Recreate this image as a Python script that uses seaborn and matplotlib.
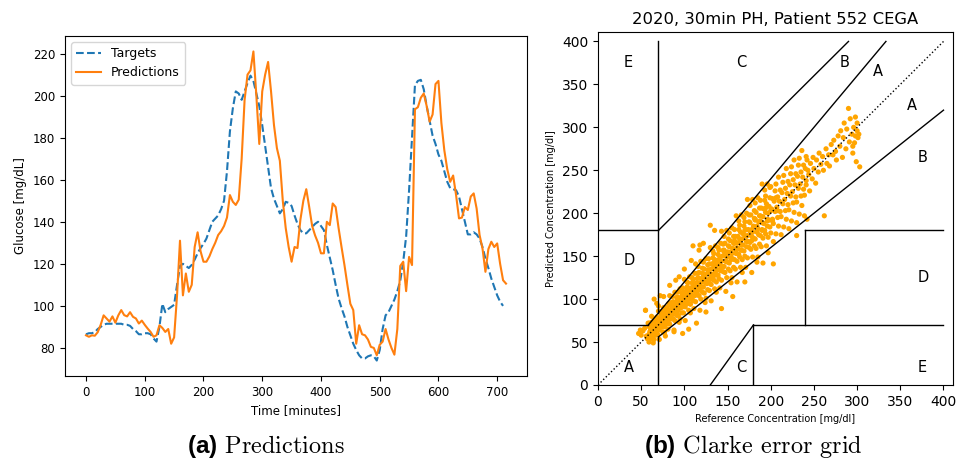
import numpy as np
import pandas as pd
import matplotlib

matplotlib.use("Agg")
import matplotlib.pyplot as plt
import seaborn as sns

# --- left panel: glucose trace, 5 minute samples ---
minutes = np.arange(0, 720, 5)

targets = [
    86.5, 87, 87, 87.5, 89, 90, 91, 91.5, 91.5, 91.5,
    91.5, 91.5, 91.5, 91, 91, 90.5, 89, 88, 86.5, 86.5,
    87, 87, 86.5, 84.5, 83, 90, 101, 97, 98.5, 99.5,
    100.5, 110, 119, 120, 119, 118, 119.5, 122, 125, 127.5,
    129.5, 132, 136, 140, 141.5, 143, 146, 150, 164, 183,
    194, 202, 201, 198, 202, 206, 209.5, 207, 201, 195,
    186, 176, 166, 156, 151, 147.5, 144, 146, 149.5, 149,
    147.5, 143, 139, 136, 134.5, 134.5, 136, 137.5, 139, 140,
    138, 136, 129, 123, 117, 110, 103.5, 99, 95, 90,
    86, 82, 79, 76.5, 75, 75, 76, 76.5, 76, 74,
    79, 89, 95.5, 97, 100, 103, 107, 112, 121, 133,
    155, 180, 205, 207, 207.5, 203, 195, 188, 181, 177,
    172, 169, 164, 159, 156, 155.5, 155, 152, 146, 140,
    134, 134, 135, 134, 132, 128, 122.5, 118, 113, 109,
    105, 102, 100, np.nan,
]

predictions = [
    86, 85.3, 86, 85.8, 87.5, 91, 95.5, 94, 92.5, 95,
    92, 95.5, 98, 95.6, 95, 97, 94.8, 94, 91.6, 93,
    91, 89.2, 87.6, 85.3, 86, 90.8, 89.5, 87.6, 89, 82,
    85, 105, 131, 105, 115.4, 106.7, 110, 128, 135, 126,
    121, 121, 123.5, 127, 130, 133.7, 135.5, 138, 142, 152.7,
    149.5, 148, 150.5, 170, 198, 210, 212, 221, 200, 177,
    202, 210, 216, 202, 186, 175, 169, 150, 137, 128,
    121, 128, 127.5, 141, 150, 155.5, 147, 138, 133.5, 130,
    125, 125, 140, 138.4, 148.7, 147, 137, 128, 119.4, 110,
    101, 98, 82, 90.8, 86.5, 86, 84, 80.5, 80, 76.5,
    81.5, 83, 89, 84, 80, 76.8, 89, 119, 121, 107,
    123.3, 119.4, 193.5, 194.5, 199, 201, 195, 187.6, 191, 205.5,
    207, 187, 174, 165, 159, 162, 152.7, 141.6, 142, 147,
    145.6, 152, 153.5, 146.3, 133.7, 127.3, 116.2, 127, 130.5, 128,
    129.7, 120, 112.2, 110.6,
]

# --- right panel: Clarke error grid points (reference, predicted) ---
cega_ref = [
    47, 49, 50, 52, 54, 55, 56, 58, 59, 57,
    59, 61, 60, 59, 60, 61, 61, 59,
    63, 62, 64, 64, 62, 63, 62, 64,
    65, 67, 66, 65, 66, 67, 67, 65,
    69, 68, 70, 70, 68, 69, 68, 70,
    71, 73, 72, 71, 72, 73, 73, 71,
    75, 74, 76, 76, 74, 75, 74, 76,
    77, 79, 78, 77, 78, 79, 79, 77,
    81, 80, 82, 82, 80, 81, 80, 82,
    83, 85, 84, 83, 84, 85, 85, 83,
    87, 86, 88, 88, 86, 87, 86, 88,
    89, 91, 90, 89, 90, 91, 91, 89,
    93, 92, 94, 94, 92, 93, 92, 94,
    95, 97, 96, 95, 96, 97, 97, 95,
    99, 98, 100, 100, 98, 99, 98, 100,
    101, 103, 102, 101, 102, 103, 103, 101,
    105, 104, 106, 106, 104, 105, 104, 106,
    107, 109, 108, 107, 108, 109, 109, 107,
    111, 110, 112, 112, 110, 111, 110, 112,
    113, 115, 114, 113, 114, 115, 115, 113,
    117, 116, 118, 118, 116, 117, 116, 118,
    119, 121, 120, 119, 120, 121, 121, 119,
    123, 122, 124, 124, 122, 123, 122, 124,
    125, 127, 126, 125, 126, 127, 127, 125,
    129, 128, 130, 130, 128, 129, 128, 130,
    131, 133, 132, 131, 132, 133, 133, 131,
    135, 134, 136, 136, 134, 135, 134, 136,
    137, 139, 138, 137, 138, 139, 139, 137,
    141, 140, 142, 142, 140, 141, 140, 142,
    143, 145, 144, 143, 144, 145, 145, 143,
    147, 146, 148, 148, 146, 147, 146, 148,
    149, 151, 150, 149, 150, 151, 151, 149,
    153, 152, 154, 154, 152, 153, 152, 154,
    155, 157, 156, 155, 156, 157, 157, 155,
    159, 158, 160, 160, 158, 159, 158, 160,
    161, 163, 162, 161, 162, 163, 163, 161,
    165, 164, 166, 166, 164, 165, 164, 166,
    167, 169, 168, 167, 168, 169, 169, 167,
    171, 170, 172, 172, 170, 171, 170, 172,
    173, 175, 174, 173, 174, 175, 175, 173,
    177, 176, 178, 178, 176, 177, 176, 178,
    179, 181, 180, 179, 180, 181, 181, 179,
    183, 182, 184, 184, 182, 183, 182, 184,
    185, 187, 186, 185, 186, 187, 187, 185,
    189, 188, 190, 190, 188, 189, 188, 190,
    191, 193, 192, 191, 192, 193, 193, 191,
    195, 194, 196, 196, 194, 195, 194, 196,
    197, 199, 198, 197, 198, 199, 199, 197,
    200, 202, 201, 202, 200,
    203, 205, 204, 205, 203,
    206, 208, 207, 208, 206,
    209, 211, 210, 211, 209,
    212, 214, 213, 214, 212,
    215, 217, 216, 217, 215,
    218, 220, 219, 220, 218,
    221, 223, 222, 223, 221,
    224, 226, 225, 226, 224,
    227, 229, 228, 229, 227,
    230, 232, 231, 232, 230,
    233, 235, 234, 235, 233,
    236, 238, 237, 238, 236,
    239, 241, 240, 241, 239,
    241, 242, 244, 245, 246, 248, 249, 250, 252, 243,
    253, 255, 256, 258, 260, 261, 262, 264, 265, 267,
    268, 270, 272, 273, 275, 276, 278, 280, 281, 283,
    284, 285, 287, 288, 290, 291, 292, 294, 295, 296,
    297, 298, 299, 300, 300, 301, 302, 303, 298, 295,
    55, 65, 68, 72, 83, 94, 110, 118, 117, 130,
    98, 114, 105, 143, 156, 170, 203, 230, 242, 78,
    88, 125, 100, 90, 76, 108, 122, 135, 62, 70,
    62, 64, 68, 70, 74, 76, 80, 82, 86, 88,
    92, 94, 98, 100, 104, 106, 110, 112, 116, 118,
    122, 124, 128, 130, 134, 136, 140, 142, 146, 148,
    152, 154, 158, 160, 164, 166, 170, 172, 176, 178,
    182, 184, 188, 190, 194, 196, 200, 202, 206, 208,
]

cega_pred = [
    60, 64, 58, 63, 66, 87, 57, 72, 68, 54,
    50, 54, 57, 59, 62, 65, 68, 72,
    55, 59, 61, 64, 66, 69, 73, 49,
    53, 58, 62, 65, 67, 70, 73, 77,
    59, 63, 66, 69, 72, 75, 79, 86,
    64, 68, 71, 73, 77, 81, 85, 53,
    62, 68, 71, 74, 77, 81, 85, 90,
    68, 73, 76, 79, 82, 86, 90, 61,
    65, 71, 76, 79, 83, 86, 90, 95,
    71, 77, 81, 84, 87, 92, 96, 104,
    77, 82, 85, 89, 93, 97, 103, 64,
    75, 81, 86, 89, 93, 97, 102, 108,
    81, 86, 90, 94, 98, 102, 108, 73,
    77, 84, 90, 94, 98, 102, 107, 112,
    84, 91, 95, 99, 103, 108, 113, 123,
    91, 96, 100, 104, 109, 114, 120, 75,
    87, 95, 100, 104, 108, 113, 119, 126,
    94, 100, 105, 109, 113, 119, 125, 84,
    89, 98, 104, 109, 113, 118, 123, 130,
    97, 105, 109, 114, 119, 124, 130, 141,
    104, 110, 115, 119, 125, 131, 138, 87,
    100, 108, 114, 119, 124, 130, 136, 144,
    107, 114, 119, 124, 129, 135, 143, 96,
    101, 111, 118, 123, 129, 134, 140, 147,
    110, 119, 124, 129, 134, 141, 147, 160,
    117, 124, 129, 135, 141, 148, 156, 98,
    112, 122, 128, 134, 139, 146, 153, 162,
    120, 128, 134, 139, 145, 152, 160, 108,
    113, 124, 133, 138, 144, 149, 157, 165,
    122, 132, 138, 144, 150, 157, 164, 179,
    131, 138, 144, 150, 157, 165, 173, 109,
    125, 135, 143, 149, 155, 162, 170, 180,
    133, 142, 148, 155, 161, 168, 177, 119,
    125, 137, 147, 153, 159, 165, 173, 183,
    135, 146, 153, 159, 165, 173, 181, 197,
    144, 152, 159, 165, 173, 181, 191, 120,
    137, 149, 157, 163, 170, 178, 186, 198,
    146, 156, 163, 170, 176, 185, 195, 131,
    137, 150, 161, 168, 174, 181, 190, 200,
    148, 160, 167, 174, 181, 190, 198, 216,
    158, 166, 173, 181, 189, 198, 209, 131,
    149, 162, 171, 178, 185, 194, 203, 216,
    159, 170, 178, 185, 192, 201, 212, 143,
    149, 164, 175, 182, 190, 197, 206, 218,
    161, 174, 181, 189, 197, 206, 215, 234,
    171, 180, 188, 196, 205, 215, 227, 142,
    162, 176, 185, 193, 201, 211, 220, 234,
    172, 184, 192, 200, 208, 218, 230, 154,
    177, 193, 205, 217, 231,
    188, 202, 214, 226, 167,
    176, 195, 207, 219, 234,
    185, 202, 214, 227, 242,
    196, 211, 224, 236, 175,
    184, 203, 216, 229, 244,
    193, 210, 223, 237, 252,
    204, 220, 233, 246, 182,
    191, 212, 225, 239, 254,
    201, 219, 233, 246, 262,
    213, 229, 243, 256, 189,
    199, 220, 234, 248, 264,
    209, 228, 242, 256, 273,
    221, 238, 252, 266, 197,
    233, 262, 245, 226, 258, 240, 265, 252, 235, 250,
    262, 248, 270, 257, 266, 250, 197, 275, 258, 268,
    255, 280, 268, 285, 272, 262, 290, 278, 296, 265,
    288, 305, 275, 298, 322, 283, 310, 292, 270, 300,
    282, 290, 260, 296, 305, 288, 292, 254, 312, 278,
    87, 100, 95, 104, 116, 126, 162, 163, 157, 186,
    60, 72, 65, 89, 103, 120, 141, 174, 193, 57,
    62, 85, 135, 122, 103, 145, 165, 180, 80, 92,
    64, 61, 69, 66, 79, 73, 82, 77, 91, 86,
    95, 89, 104, 98, 106, 100, 117, 109, 118, 111,
    129, 121, 130, 123, 142, 132, 143, 134, 155, 144,
    154, 146, 168, 156, 167, 157, 180, 167, 179, 168,
    193, 179, 191, 180, 206, 191, 203, 191, 218, 203,
]

# Clarke zone boundaries ((x0, x1), (y0, y1))
zone_lines = [
    ((0, 175 / 3), (70, 70)),
    ((175 / 3, 400 / 1.2), (70, 400)),
    ((70, 70), (84, 400)),
    ((0, 70), (180, 180)),
    ((70, 290), (180, 400)),
    ((70, 70), (0, 56)),
    ((70, 400), (56, 320)),
    ((180, 180), (0, 70)),
    ((180, 400), (70, 70)),
    ((240, 240), (70, 180)),
    ((240, 400), (180, 180)),
    ((130, 180), (0, 70)),
]
zone_labels = [
    (30, 15, "A"), (318, 360, "A"), (358, 320, "A"),
    (370, 260, "B"), (280, 370, "B"),
    (160, 370, "C"), (160, 15, "C"),
    (30, 140, "D"), (370, 120, "D"),
    (30, 370, "E"), (370, 15, "E"),
]

plt.rcParams["mathtext.fontset"] = "custom"
plt.rcParams["mathtext.rm"] = "cmr10"
plt.rcParams["mathtext.bf"] = "Liberation Sans:bold"

fig = plt.figure(figsize=(9.6, 4.63), dpi=100)
ax1 = fig.add_axes([65 / 960, 87 / 463, 462 / 960, 340 / 463])
ax2 = fig.add_axes([598 / 960, 78 / 463, 355 / 960, 353 / 463])

trace = pd.DataFrame({"minutes": minutes, "targets": targets, "predictions": predictions})
sns.lineplot(data=trace, x="minutes", y="targets", ax=ax1, color="tab:blue",
             linestyle="--", linewidth=1.5, label="Targets")
sns.lineplot(data=trace, x="minutes", y="predictions", ax=ax1, color="tab:orange",
             linewidth=1.5, label="Predictions")
ax1.set_xlabel("Time [minutes]", fontsize=8.5)
ax1.set_ylabel("Glucose [mg/dL]", fontsize=8.5)
ax1.set_yticks(range(80, 221, 20))
ax1.tick_params(labelsize=8.5)
ax1.legend(loc="upper left", fontsize=9)

sns.scatterplot(x=cega_ref, y=cega_pred, ax=ax2, color="orange", s=14,
                edgecolor="none", zorder=1)
ax2.plot([0, 400], [0, 400], ":", color="black", linewidth=1)
for xs, ys in zone_lines:
    ax2.plot(xs, ys, "-", color="black", linewidth=1)
for x, y, s in zone_labels:
    ax2.text(x, y, s, fontsize=10.5)
ax2.set_xlim(0, 411)
ax2.set_ylim(0, 411)
ax2.set_xticks(range(0, 401, 50))
ax2.set_yticks(range(0, 401, 50))
ax2.tick_params(labelsize=10)
ax2.set_xlabel("Reference Concentration [mg/dl]", fontsize=7)
ax2.set_ylabel("Predicted Concentration [mg/dl]", fontsize=7)
ax2.set_title("2020, 30min PH, Patient 552 CEGA", fontsize=11.8)

fig.text(266 / 960, 17 / 463, r"$\mathbf{(a)}\ \mathrm{Predictions}$",
         fontsize=17.5, ha="center", va="center")
fig.text(753 / 960, 17 / 463, r"$\mathbf{(b)}\ \mathrm{Clarke\ error\ grid}$",
         fontsize=17.5, ha="center", va="center")

fig.savefig("out.png", dpi=100)
plt.close(fig)
